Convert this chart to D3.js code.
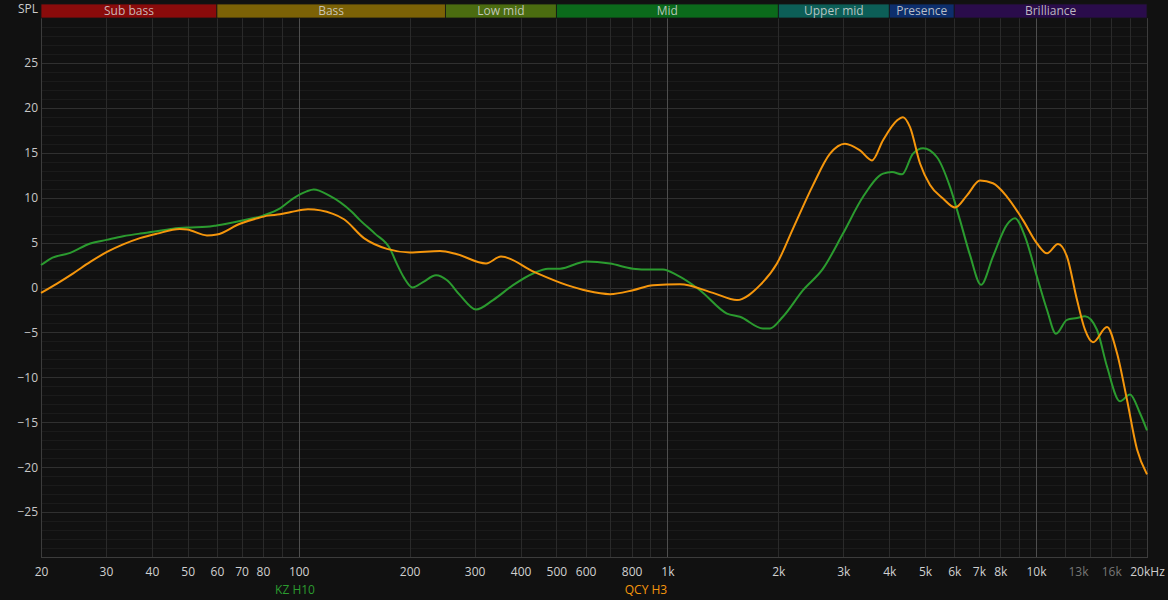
<!DOCTYPE html>
<html>
<head>
<meta charset="utf-8">
<script src="https://cdn.jsdelivr.net/npm/d3@7"></script>
<style>
  html, body { margin: 0; padding: 0; background: #111111; }
  svg { display: block; }
  text { font-family: "Open Sans", "Noto Sans", sans-serif; }
</style>
</head>
<body>
<svg id="chart" width="1168" height="600"></svg>
<script>
// ---------- DATA ----------
const bandNames  = ["Sub bass", "Bass", "Low mid", "Mid", "Upper mid", "Presence", "Brilliance"];
const bandEdges  = [20, 60, 250, 500, 2000, 4000, 6000, 20000];
const bandColors = ["#8a0b0b", "#7c6206", "#4b6c10", "#0b6a1b", "#0c5e57", "#0d2e6c", "#2a0c4b"];

const xTickValues = [20,30,40,50,60,70,80,100,200,300,400,500,600,800,1000,2000,3000,4000,5000,6000,7000,8000,10000,13000,16000,20000];
const xTickLabels = ["20","30","40","50","60","70","80","100","200","300","400","500","600","800","1k","2k","3k","4k","5k","6k","7k","8k","10k","13k","16k","20kHz"];
const xTickDim    = ["13k","16k"];
const yTickValues = [-25,-20,-15,-10,-5,0,5,10,15,20,25];

const gridFreqs  = [30,40,50,60,70,80,90,200,300,400,500,600,700,800,900,2000,3000,4000,5000,6000,7000,8000,9000,12000,14000,16000,18000];
const majorFreqs = [100,1000,10000];

const seriesNames = ["KZ H10", "QCY H3"];

const kzFreq = [20,21.2,24,27.2,30.1,33.4,37.1,40.3,45.6,49.7,56.3,59.9,69.3,80,89,96.5,105.1,109.9,120.8,139.5,146.6,161,177,184.8,193,203.6,217.4,235.8,252.6,273.8,302.7,336.6,381.4,432.2,474.6,511.4,601.8,698.8,807,897.4,973,1062,1226,1451,1574,1817,1899,2058,2334,2644,2995,3392,3846,4068,4330,4638,4938,5388,5844,6220,6622,7092,7642,8342,8770,9336,10060,10712,11330,12134,12916,13576,14632,15578,16894,17982,19144,20000];
const kzDb   = [2.5,3.2,3.85,4.9,5.3,5.7,6.0,6.2,6.55,6.67,6.75,6.9,7.4,8.0,8.8,9.9,10.7,10.9,10.25,8.4,7.5,6.0,4.3,2.6,1.1,0.0,0.6,1.35,0.8,-0.85,-2.45,-1.4,0.26,1.56,2.1,2.1,2.9,2.67,2.1,2.0,2.0,1.37,-0.3,-2.9,-3.26,-4.56,-4.56,-3.26,-0.3,2.1,6.0,10.07,12.67,12.85,12.6,14.9,15.5,14.5,11.2,7.5,3.6,0.3,3.44,7.0,7.7,5.67,1.2,-2.5,-5.15,-3.6,-3.4,-3.2,-4.7,-8.8,-12.67,-11.9,-14,-15.9];

const qcyFreq = [20,22.1,24.4,27.2,30.2,33.4,37.1,41.3,47.6,49.8,56.4,60,69.3,77.1,82.5,89,95.3,106,123.9,132.7,150.3,173.6,200.4,241.8,268.9,322.2,353.8,434.8,534.4,605.4,698.8,807,914,1082,1330,1545,1784,1983,2192,2484,2762,3032,3330,3590,3846,4196,4356,4552,4846,5158,5594,6030,6498,7048,7642,8342,9218,10060,10712,11472,12134,12916,13576,14272,15578,16580,17650,18786,20000];
const qcyDb   = [-0.6,0.44,1.55,2.85,3.96,4.8,5.5,6.0,6.5,6.45,5.8,5.9,7.1,7.7,8.0,8.15,8.4,8.7,8.2,7.6,5.5,4.3,3.9,4.07,3.7,2.67,3.45,1.74,0.26,-0.37,-0.74,-0.3,0.26,0.37,-0.6,-1.4,0.26,2.67,6.56,11.4,14.9,16.0,15.26,14.15,16.4,18.6,18.96,17.85,13.8,11.4,9.9,8.9,10.26,11.9,11.6,10.1,7.5,4.9,3.8,4.85,3.44,-1.37,-4.7,-6.1,-4.4,-7.3,-12.5,-18,-20.8];

const seriesColors = ["#2b9b2f", "#f5960c"];

// ---------- LAYOUT ----------
const svg = d3.select("#chart");
const padL = 41, padR = 1147, padT = 18, padB = 557;

const x = d3.scaleLog().domain([20, 20000]).range([padL, padR]);
const y = d3.scaleLinear().domain([-30, 30]).range([padB, padT]);

// plot background
svg.append("rect").attr("x", padL).attr("y", padT).attr("width", padR - padL).attr("height", padB - padT).attr("fill", "#111111");

// minor horizontal grid (1 dB)
const minorDb = d3.range(-29, 30, 1).filter(v => v % 5 !== 0);
svg.append("g").selectAll("line").data(minorDb).join("line")
  .attr("x1", padL).attr("x2", padR)
  .attr("y1", d => Math.round(y(d)) + 0.5).attr("y2", d => Math.round(y(d)) + 0.5)
  .attr("stroke", "#1b1b1b").attr("stroke-width", 1);

// major horizontal grid (5 dB)
svg.append("g").selectAll("line").data(yTickValues).join("line")
  .attr("x1", padL).attr("x2", padR)
  .attr("y1", d => Math.round(y(d)) + 0.5).attr("y2", d => Math.round(y(d)) + 0.5)
  .attr("stroke", "#303030").attr("stroke-width", 1);

// vertical grid
svg.append("g").selectAll("line").data(gridFreqs).join("line")
  .attr("x1", d => Math.round(x(d)) + 0.5).attr("x2", d => Math.round(x(d)) + 0.5)
  .attr("y1", padT).attr("y2", padB)
  .attr("stroke", "#2a2a2a").attr("stroke-width", 1);
svg.append("g").selectAll("line").data(majorFreqs).join("line")
  .attr("x1", d => Math.round(x(d)) + 0.5).attr("x2", d => Math.round(x(d)) + 0.5)
  .attr("y1", padT).attr("y2", padB)
  .attr("stroke", "#4e4e4e").attr("stroke-width", 1);

// plot frame
svg.append("line").attr("x1", padL + 0.5).attr("x2", padL + 0.5).attr("y1", padT).attr("y2", padB).attr("stroke", "#3c3c3c");
svg.append("line").attr("x1", padR + 0.5).attr("x2", padR + 0.5).attr("y1", padT).attr("y2", padB).attr("stroke", "#3c3c3c");
svg.append("line").attr("x1", padL).attr("x2", padR + 1).attr("y1", padB + 0.5).attr("y2", padB + 0.5).attr("stroke", "#3c3c3c");

// frequency bands on top
const bands = bandNames.map((n, i) => ({ name: n, f0: bandEdges[i], f1: bandEdges[i + 1], color: bandColors[i] }));
const bandG = svg.append("g");
bandG.selectAll("rect").data(bands).join("rect")
  .attr("x", d => x(d.f0)).attr("y", 4)
  .attr("width", d => x(d.f1) - x(d.f0)).attr("height", 14)
  .attr("fill", d => d.color)
  .attr("stroke", "#151515").attr("stroke-width", 0.8);
bandG.selectAll("text").data(bands).join("text")
  .attr("x", d => (x(d.f0) + x(d.f1)) / 2).attr("y", 12)
  .attr("text-anchor", "middle").attr("dominant-baseline", "middle")
  .attr("fill", "#d8d8d8").attr("fill-opacity", 0.85)
  .attr("font-size", 12)
  .text(d => d.name);

// SPL label
svg.append("text").attr("x", 38).attr("y", 10).attr("text-anchor", "end").attr("dominant-baseline", "middle")
  .attr("fill", "#cccccc").attr("font-size", 12).text("SPL");

// Y axis
const yAxis = d3.axisLeft(y).tickValues(yTickValues).tickSize(0).tickPadding(3).tickFormat(d3.format("d"));
const yG = svg.append("g").attr("transform", `translate(${padL},0)`).call(yAxis);
yG.select(".domain").remove();
yG.selectAll("text").attr("fill", "#c8c8c8").attr("font-size", 12).attr("font-family", "'Open Sans', 'Noto Sans', sans-serif");

// X axis
const xAxis = d3.axisBottom(x).tickValues(xTickValues).tickSize(0).tickPadding(10)
  .tickFormat((d, i) => xTickLabels[i]);
const xG = svg.append("g").attr("transform", `translate(0,${padB})`).call(xAxis);
xG.select(".domain").remove();
xG.selectAll("text")
  .attr("fill", (d, i) => xTickDim.includes(xTickLabels[i]) ? "#777777" : "#d0d0d0")
  .attr("font-size", 12).attr("font-family", "'Open Sans', 'Noto Sans', sans-serif");

// curves
const line = d3.line().x(d => x(d[0])).y(d => y(d[1])).curve(d3.curveMonotoneX);
const series = [
  { name: seriesNames[0], pts: kzFreq.map((f, i) => [f, kzDb[i]]), color: seriesColors[0] },
  { name: seriesNames[1], pts: qcyFreq.map((f, i) => [f, qcyDb[i]]), color: seriesColors[1] }
];
svg.append("g").selectAll("path").data(series).join("path")
  .attr("d", d => line(d.pts))
  .attr("fill", "none")
  .attr("stroke", d => d.color)
  .attr("stroke-width", 2)
  .attr("stroke-linejoin", "round");

// legend
const legendX = [295, 646];
svg.append("g").selectAll("text").data(series).join("text")
  .attr("x", (d, i) => legendX[i]).attr("y", 591)
  .attr("text-anchor", "middle").attr("dominant-baseline", "middle")
  .attr("fill", d => d.color).attr("font-size", 12)
  .text(d => d.name);
</script>
</body>
</html>
